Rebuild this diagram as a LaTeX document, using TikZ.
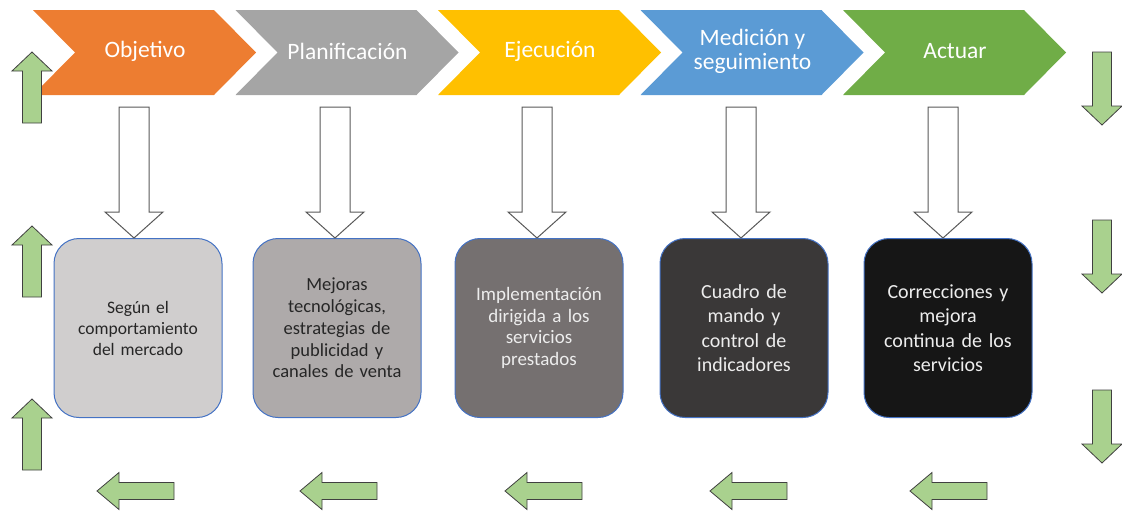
\documentclass[tikz,border=0pt]{standalone}
\usepackage{fontspec}
\setmainfont{Carlito}
\usetikzlibrary{calc}
\definecolor{naranja}{HTML}{ED7D31}
\definecolor{gris}{HTML}{A5A5A5}
\definecolor{oro}{HTML}{FFC000}
\definecolor{azul}{HTML}{5B9BD5}
\definecolor{verde}{HTML}{70AD47}
\definecolor{verdelt}{HTML}{A9D18E}
\definecolor{borde}{HTML}{404040}
\definecolor{hueco}{HTML}{595959}
\definecolor{cajaazul}{HTML}{4472C4}
\definecolor{caja1}{HTML}{D0CECE}
\definecolor{caja2}{HTML}{AEAAAA}
\definecolor{caja3}{HTML}{757070}
\definecolor{caja4}{HTML}{3A3838}
\definecolor{caja5}{HTML}{161616}
\definecolor{oscuro}{HTML}{262626}
\definecolor{claro}{HTML}{EDEDED}
% flecha de bloque: [estilo]{cola}{punta}{medio ancho cuerpo}{medio ancho cabeza}{largo cabeza}
\newcommand{\flecha}[6][]{%
  \coordinate (fa) at #2; \coordinate (fb) at #3;
  \coordinate (fh) at ($(fb)!#6!(fa)$);
  \draw[#1] ($(fa)!#4!90:(fb)$) -- ($(fh)!#4!90:(fb)$) -- ($(fh)!#5!90:(fb)$) -- (fb)
    -- ($(fh)!#5!-90:(fb)$) -- ($(fh)!#4!-90:(fb)$) -- ($(fa)!#4!-90:(fb)$) -- cycle;
}
\tikzset{
  fase/.style={text=white, align=center, inner sep=0pt, font=\fontsize{23.5}{24}\selectfont},
  caja/.style={draw=cajaazul, line width=1pt, rounded corners=25pt, align=center,
               minimum width=168pt, minimum height=179pt, text width=160pt},
  hueca/.style={draw=hueco, fill=white, line width=1pt},
  verdeflecha/.style={draw=borde, fill=verdelt, line width=0.8pt}
}

\begin{document}
\begin{tikzpicture}[x=1pt,y=-1pt]
  \useasboundingbox (0,0) rectangle (1122,512);

  % fases del ciclo
  \foreach \i/\c/\t in {1/naranja/Objetivo, 2/gris/Planificación, 3/oro/Ejecución,
                        4/azul/{Medición y\\seguimiento}, 5/verde/Actuar} {
    \pgfmathsetmacro\xo{33+202.5*(\i-1)}
    \fill[\c] (\xo,10) -- ++(181,0) -- ++(42,42.5) -- ++(-42,42.5) -- ++(-181,0) -- ++(42,-42.5) -- cycle;
    \node[fase] (f\i) at (\xo+112,51.5) {\t};
  }

  % cajas
  \foreach \i/\x/\fc/\tc/\fs/\bs/\t in {1/138/caja1/oscuro/17.5/21/{Según el\\comportamiento\\del mercado},
      2/337/caja2/oscuro/18.5/21.7/{Mejoras\\tecnológicas,\\estrategias de\\publicidad y\\canales de venta},
      3/539/caja3/claro/19/21.7/{Implementación\\dirigida a los\\servicios\\prestados},
      4/744/caja4/claro/20/24.5/{Cuadro de\\mando y\\control de\\indicadores},
      5/948/caja5/claro/20/24.5/{Correcciones y\\mejora\\continua de los\\servicios}} {
    \node[caja, fill=\fc, text=\tc, font=\fontsize{\fs}{\bs}\selectfont] (c\i) at (\x,328) {\t};
  }

  % flechas huecas
  \foreach \i/\x in {1/134, 2/335, 3/537, 4/741, 5/943} {
    \coordinate (t\i) at (\x,107);
    \flecha[hueca]{(t\i)}{(t\i |- c\i.north)}{15pt}{29pt}{26pt}
  }

  % flechas verdes
  \foreach \i/\y in {1/123, 2/297, 3/470} {
    \coordinate (s\i) at (32,\y);
    \flecha[verdeflecha]{(s\i)}{($(s\i)+(0,-71)$)}{9.5pt}{20pt}{19pt}
  }
  \foreach \i/\y in {1/52, 2/220, 3/390} {
    \coordinate (b\i) at (1102,\y);
    \flecha[verdeflecha]{(b\i)}{($(b\i)+(0,73)$)}{9.5pt}{20pt}{19pt}
  }
  \foreach \i/\x in {1/97, 2/300, 3/505, 4/710, 5/910} {
    \coordinate (l\i) at (\x,491);
    \flecha[verdeflecha]{($(l\i)+(77,0)$)}{(l\i)}{8.5pt}{18.5pt}{22pt}
  }
\end{tikzpicture}
\end{document}
